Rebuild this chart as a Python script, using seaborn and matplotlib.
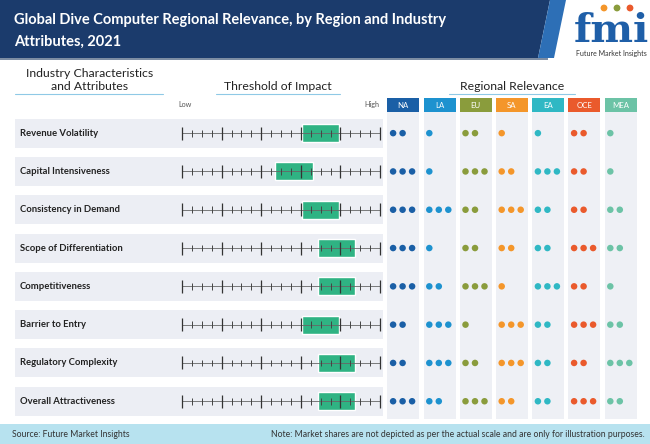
import matplotlib
matplotlib.use("Agg")
import matplotlib.pyplot as plt
from matplotlib.patches import Rectangle, Polygon, Circle
import seaborn as sns
import numpy as np
import pandas as pd

# Datos
atributos = ["Revenue Volatility", "Capital Intensiveness", "Consistency in Demand",
             "Scope of Differentiation", "Competitiveness", "Barrier to Entry",
             "Regulatory Complexity", "Overall Attractiveness"]
inicio_umbral = [12.1, 9.4, 12.1, 13.7, 13.7, 12.1, 13.7, 13.7]
fin_umbral = [15.9, 13.2, 15.9, 17.5, 17.5, 15.9, 17.5, 17.5]
regiones = ["NA", "LA", "EU", "SA", "EA", "OCE", "MEA"]
colores = ["#1a5fa6", "#1d92cf", "#8a9c3c", "#f4962a", "#2fb8c4", "#ea5a2c", "#6cc3a6"]
puntos = {
    "NA":  [2, 3, 3, 3, 3, 2, 2, 3],
    "LA":  [1, 1, 3, 1, 2, 3, 3, 2],
    "EU":  [2, 3, 2, 2, 3, 1, 2, 3],
    "SA":  [1, 2, 3, 2, 1, 3, 3, 2],
    "EA":  [1, 3, 2, 2, 3, 2, 2, 2],
    "OCE": [2, 2, 2, 3, 2, 3, 2, 3],
    "MEA": [1, 1, 2, 2, 1, 2, 3, 2],
}

sns.set_theme(style="white")
plt.rcParams['font.family'] = ['Lato', 'DejaVu Sans']

W, H = 650, 444
fig = plt.figure(figsize=(6.5, 4.44), dpi=100)
fig.patch.set_facecolor("white")

# Capa de fondo en pixeles
bg = fig.add_axes([0, 0, 1, 1])
bg.set_xlim(0, W)
bg.set_ylim(H, 0)
bg.axis("off")

# Banda del titulo
bg.add_patch(Polygon([(0, 0), (550, 0), (538, 58), (0, 58)], color="#1b3b6c", lw=0))
bg.add_patch(Polygon([(550, 0), (566, 0), (554, 58), (538, 58)], color="#2d6fb6", lw=0))
bg.add_patch(Rectangle((0, 58), 548, 2.5, color="#7d8da3", lw=0))
bg.text(14, 20, "Global Dive Computer Regional Relevance, by Region and Industry",
        color="white", fontsize=10.5, fontweight="bold", va="center")
bg.text(14, 42, "Attributes, 2021", color="white", fontsize=10.5, fontweight="bold", va="center")

# Logo
bg.text(611, 42, "fmi", color="#1f5fa8", fontsize=29, fontweight="bold",
        ha="center", va="baseline", family="DejaVu Serif")
for cx, c in zip([604, 617, 630], ["#f4962a", "#8a9c3c", "#ea5a2c"]):
    bg.add_patch(Circle((cx, 8), 3.4, color=c, lw=0))
bg.text(611, 53.5, "Future Market Insights", color="#333333", fontsize=5.0, ha="center", va="center")

# Encabezados
bg.text(90, 80, "Industry Characteristics\nand Attributes", fontsize=8.8, ha="center",
        va="center", color="#222222", linespacing=1.15)
bg.plot([15, 163], [94, 94], color="#8fc9e6", lw=0.8)
bg.text(278, 86, "Threshold of Impact", fontsize=8.8, ha="center", va="center", color="#222222")
bg.plot([216, 340], [94, 94], color="#8fc9e6", lw=0.8)
bg.text(512, 86, "Regional Relevance", fontsize=8.8, ha="center", va="center", color="#222222")
bg.plot([449, 575], [94, 94], color="#8fc9e6", lw=0.8)
bg.text(185, 104, "Low", fontsize=5.2, ha="center", va="center", color="#555555")
bg.text(372, 104, "High", fontsize=5.2, ha="center", va="center", color="#555555")

# Filas y columnas
y_top, paso = 114.0, 38.3
x_col, paso_col, ancho_col = 387.3, 36.2, 32
for i, nombre in enumerate(atributos):
    yc = y_top + paso / 2 + i * paso
    bg.add_patch(Rectangle((15, yc - 14.5), 368, 29, color="#eceef4", lw=0))
    bg.text(20, yc, nombre, fontsize=6.8, fontweight="bold", va="center", color="#222222")
for j, (reg, c) in enumerate(zip(regiones, colores)):
    x0 = x_col + j * paso_col
    bg.add_patch(Rectangle((x0, 111.7), ancho_col, 307.5, color="#eef0f5", lw=0))
    bg.add_patch(Rectangle((x0, 97.7), ancho_col, 14, color=c, lw=0))
    bg.text(x0 + ancho_col / 2, 105, reg, fontsize=5.6, color="white", ha="center", va="center")

# Pie
bg.add_patch(Rectangle((0, 424), W, 20, color="#b7e2ef", lw=0))
bg.text(12, 434, "Source: Future Market Insights", fontsize=6.2, va="center", color="#333333")
bg.text(645, 434, "Note: Market shares are not depicted as per the actual scale and are only for illustration purposes.",
        fontsize=6.2, va="center", ha="right", color="#333333")

# Escala de umbral
th = fig.add_axes([182 / W, 1 - (y_top + 8 * paso) / H, 198 / W, 8 * paso / H])
th.set_xlim(0, 20)
th.set_ylim(7.5, -0.5)
th.axis("off")
filas = np.arange(len(atributos))
th.barh(filas, np.array(fin_umbral) - np.array(inicio_umbral), left=inicio_umbral,
        height=0.47, color="#2fb383", zorder=1)
marcas = np.arange(0, 21)
for i in filas:
    th.hlines(i, 0, 20, color="#666666", lw=0.6, zorder=2)
    largas = marcas[marcas % 4 == 0]
    cortas = marcas[marcas % 4 != 0]
    th.vlines(largas, i - 0.17, i + 0.17, color="#333333", lw=0.9, zorder=3, clip_on=False)
    th.vlines(cortas, i - 0.09, i + 0.09, color="#444444", lw=0.7, zorder=3, clip_on=False)

# Puntos de relevancia regional
filas_df = []
for j, reg in enumerate(regiones):
    for i, n in enumerate(puntos[reg]):
        for k in range(n):
            filas_df.append({"region": reg, "fila": i, "x": j + (5.8 + k * 9.5) / paso_col})
df = pd.DataFrame(filas_df)

dt = fig.add_axes([x_col / W, 1 - (y_top + 8 * paso) / H, 7 * paso_col / W, 8 * paso / H])
sns.scatterplot(data=df, x="x", y="fila", hue="region", palette=dict(zip(regiones, colores)),
                s=22, linewidth=0, legend=False, ax=dt)
dt.set_xlim(0, 7)
dt.set_ylim(7.5, -0.5)
dt.axis("off")
dt.patch.set_alpha(0)

fig.savefig("out.png", dpi=100)
